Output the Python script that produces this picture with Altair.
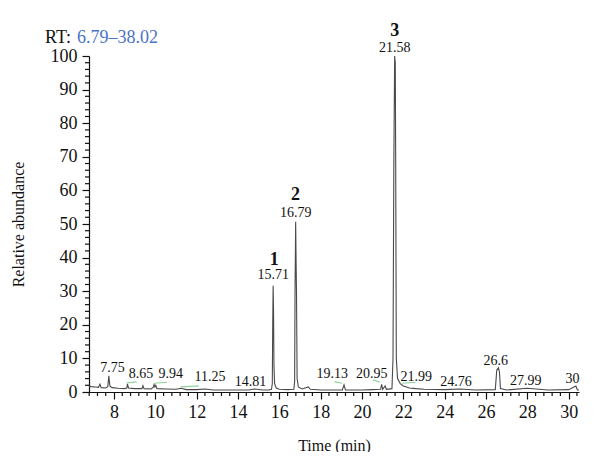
import altair as alt
import pandas as pd

# Chromatogram trace (time in min, relative abundance in %)
times = [6.79, 6.9, 7.1, 7.25, 7.32, 7.38, 7.6, 7.70, 7.75, 7.80, 7.9, 8.2, 8.5, 8.62, 8.65, 8.70,
         9.0, 9.35, 9.40, 9.45, 9.8, 9.90, 9.94, 9.98, 10.02, 10.08, 10.5, 11.0, 11.25, 11.5,
         12.0, 12.4, 12.8, 13.5, 14.0, 14.5, 14.81, 15.2, 15.5, 15.62, 15.66, 15.68, 15.70,
         15.72, 15.74, 15.77, 15.85, 16.0, 16.4, 16.70, 16.74, 16.76, 16.79, 16.81, 16.83,
         16.86, 16.92, 17.1, 17.4, 17.5, 18.0, 18.5, 19.05, 19.13, 19.2, 19.6, 20.0, 20.5,
         20.90, 20.95, 21.00, 21.12, 21.18, 21.45, 21.50, 21.54, 21.58, 21.61, 21.63, 21.66,
         21.72, 21.85, 22.0, 22.3, 22.6, 23.0, 24.0, 24.76, 25.5, 26.45, 26.52, 26.6, 26.65,
         26.7, 27.0, 27.99, 29.0, 30.0, 30.35, 30.42, 30.5]
abund = [1.8, 1.6, 1.5, 1.4, 2.3, 1.3, 1.2, 1.6, 4.8, 1.8, 1.3, 1.1, 1.0, 1.2, 2.4, 1.2,
         1.0, 1.0, 1.9, 1.0, 0.9, 1.4, 2.2, 1.5, 2.0, 1.0, 0.9, 0.8, 1.1, 0.7,
         0.7, 0.9, 0.6, 0.6, 0.6, 0.6, 0.9, 0.6, 0.6, 0.8, 2.5, 20.0, 31.6,
         24.0, 8.0, 2.5, 1.2, 0.8, 0.7, 0.8, 3.0, 30.0, 50.7, 39.0, 30.0,
         4.0, 1.5, 0.9, 1.5, 0.8, 0.6, 0.6, 0.6, 2.1, 0.6, 0.6, 0.6, 0.7,
         0.8, 2.3, 0.8, 1.8, 0.8, 1.0, 10.0, 68.0, 100.0, 98.0, 68.0, 10.0,
         4.0, 2.5, 1.8, 1.2, 1.0, 0.8, 0.7, 0.9, 0.6, 0.7, 6.5, 7.2, 6.0,
         1.0, 0.6, 1.1, 0.6, 0.7, 1.8, 0.6, 0.6]

# Peak retention-time labels
label_text = ["7.75", "8.65", "9.94", "11.25", "14.81", "15.71", "16.79", "19.13", "20.95",
              "21.58", "21.99", "24.76", "26.6", "27.99", "30"]
label_time = [7.93, 9.31, 10.74, 12.65, 14.61, 15.70, 16.80, 18.56, 20.47,
              21.58, 22.62, 24.55, 26.47, 27.92, 30.18]
label_level = [7.1, 5.4, 5.4, 4.5, 3.0, 34.8, 53.4, 5.4, 5.4,
               102.5, 4.5, 3.0, 9.2, 3.3, 3.9]

# Compound numbers
num_text = ["1", "2", "3"]
num_time = [15.75, 16.78, 21.58]
num_level = [39.3, 58.6, 107.4]

# Green integration baselines
g_t1 = [8.62, 9.93, 11.22, 18.67, 20.53, 21.94]
g_t2 = [9.10, 10.57, 12.11, 19.05, 20.88, 22.58]
g_v1 = [2.7, 2.6, 1.5, 3.1, 3.6, 2.6]
g_v2 = [3.0, 2.9, 1.8, 2.6, 2.9, 2.9]

# Axis ticks
x_major = [8, 10, 12, 14, 16, 18, 20, 22, 24, 26, 28, 30]
x_minor = [6.8, 7.2, 7.6, 8.4, 8.8, 9.2, 9.6, 10.4, 10.8, 11.2, 11.6, 12.4, 12.8, 13.2, 13.6,
           14.4, 14.8, 15.2, 15.6, 16.4, 16.8, 17.2, 17.6, 18.4, 18.8, 19.2, 19.6, 20.4, 20.8,
           21.2, 21.6, 22.4, 22.8, 23.2, 23.6, 24.4, 24.8, 25.2, 25.6, 26.4, 26.8, 27.2, 27.6,
           28.4, 28.8, 29.2, 29.6, 30.4]
y_major = [0, 10, 20, 30, 40, 50, 60, 70, 80, 90, 100]
y_minor = [2, 4, 6, 8, 12, 14, 16, 18, 22, 24, 26, 28, 32, 34, 36, 38, 42, 44, 46, 48,
           52, 54, 56, 58, 62, 64, 66, 68, 72, 74, 76, 78, 82, 84, 86, 88, 92, 94, 96, 98]

FONT = "Liberation Serif"
INK = "#111111"

trace = pd.DataFrame({"t": times, "a": abund})
labels = pd.DataFrame({"txt": label_text, "t": label_time, "a": label_level})
nums = pd.DataFrame({"txt": num_text, "t": num_time, "a": num_level})
greens = pd.DataFrame({"t1": g_t1, "t2": g_t2, "v1": g_v1, "v2": g_v2})
xminor = pd.DataFrame({"t": x_minor})
yminor = pd.DataFrame({"a": y_minor})

x_scale = alt.Scale(domain=[6.79, 30.5], nice=False, zero=False)
y_scale = alt.Scale(domain=[0, 100], nice=False)

x_axis = alt.Axis(
    values=x_major, format="d", tickSize=7,
    title="Time (min)", titleFont=FONT, titleFontSize=16, titleFontWeight="normal",
    titleY=53, titleBaseline="middle", titleColor=INK,
    labelFont=FONT, labelFontSize=18, labelColor=INK, labelPadding=4,
    labelFlush=False, labelOverlap=False, grid=False,
    domainColor=INK, tickColor=INK, domainWidth=1.2, tickWidth=1.2,
)
y_axis = alt.Axis(
    values=y_major, format="d", tickSize=7,
    title="Relative abundance", titleFont=FONT, titleFontSize=16, titleFontWeight="normal",
    titleX=-71, titleY=168, titleAngle=270, titleAlign="center", titleBaseline="middle",
    titleColor=INK,
    labelFont=FONT, labelFontSize=18, labelColor=INK, labelPadding=5,
    labelFlush=False, labelOverlap=False, grid=False,
    domainColor=INK, tickColor=INK, domainWidth=1.2, tickWidth=1.2,
)

X = alt.X("t:Q", scale=x_scale, axis=x_axis)
Y = alt.Y("a:Q", scale=y_scale, axis=y_axis)

line = alt.Chart(trace).mark_line(color="#4a4a4a", strokeWidth=1.1).encode(x=X, y=Y)

green = alt.Chart(greens).mark_rule(color="#8fd49a", strokeWidth=1.2).encode(
    x=alt.X("t1:Q", scale=x_scale, axis=x_axis), x2="t2:Q",
    y=alt.Y("v1:Q", scale=y_scale, axis=y_axis), y2="v2:Q",
)

xmin = alt.Chart(xminor).mark_rule(color=INK, strokeWidth=1.2).encode(
    x=X, y=alt.value(336), y2=alt.value(340))
ymin = alt.Chart(yminor).mark_rule(color=INK, strokeWidth=1.2).encode(
    y=Y, x=alt.value(0), x2=alt.value(-4))

lbl = alt.Chart(labels).mark_text(font=FONT, fontSize=14, color=INK, baseline="middle").encode(
    x=X, y=Y, text="txt:N")

num = alt.Chart(nums).mark_text(font=FONT, fontSize=18, fontWeight="bold", color=INK,
                                baseline="middle").encode(x=X, y=Y, text="txt:N")

one = pd.DataFrame({"k": [0]})
rt1 = alt.Chart(one).mark_text(text="RT:", font=FONT, fontSize=18, color=INK,
                               align="left", baseline="alphabetic").encode(
    x=alt.value(-44), y=alt.value(-13))
rt2 = alt.Chart(one).mark_text(text="6.79–38.02", font=FONT, fontSize=18, color="#4a72c8",
                               align="left", baseline="alphabetic").encode(
    x=alt.value(-12), y=alt.value(-13))

chart = alt.layer(line, green, xmin, ymin, lbl, num, rt1, rt2).properties(
    width=490, height=336,
    autosize=alt.AutoSizeParams(type="none"),
    padding={"left": 81, "top": 48, "right": 13, "bottom": 60},
).configure_view(strokeWidth=0)

chart.save("out.html", embed_options={"renderer": "svg", "actions": False})
